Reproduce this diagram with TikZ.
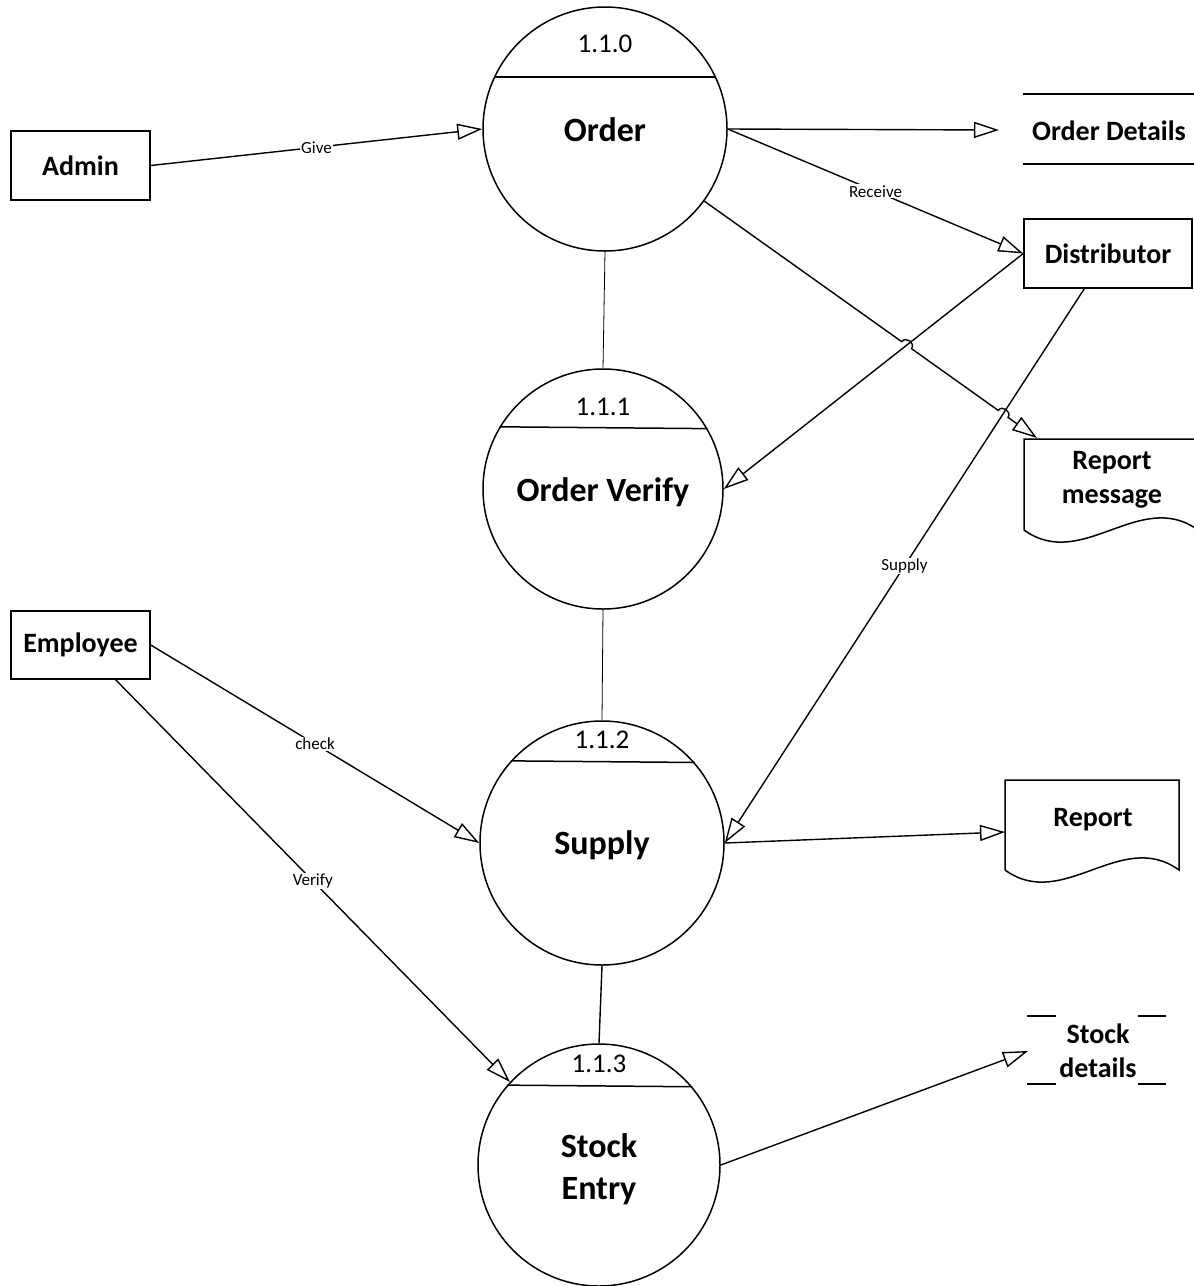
\documentclass[tikz,border=0pt]{standalone}
\usepackage{fontspec}
\setmainfont{Carlito}
\usetikzlibrary{arrows.meta,calc,intersections}
\begin{document}
\begin{tikzpicture}[x=1pt,y=-1pt,
  proc/.style={circle,draw,line width=1.5pt,minimum size=#1,inner sep=0pt},
  ptitle/.style={font=\bfseries\fontsize{34}{42}\selectfont,align=center,inner sep=0pt},
  pnum/.style={font=\fontsize{27}{30}\selectfont,inner sep=0pt},
  ext/.style={draw,line width=1.5pt,minimum width=139pt,minimum height=69pt,inner sep=0pt,font=\bfseries\fontsize{28}{30}\selectfont},
  store/.style={font=\bfseries\fontsize{28}{34}\selectfont,align=center,inner sep=0pt},
  shapeline/.style={line width=1.5pt},
  flow/.style={line width=1.4pt,-{Triangle[open,length=25pt,width=16pt,line width=1.4pt]}},
  thin/.style={line width=0.8pt},
  plain/.style={line width=1.4pt},
  lab/.style={fill=white,inner sep=1pt,font=\fontsize{17}{17}\selectfont}
]
\useasboundingbox (0,0) rectangle (1194,1286);

% processes
\node[proc=244pt] (order) at (605,129) {};
\draw[shapeline] (order.155) -- (order.25);
\node[pnum] (n0) at (605,44) {1.1.0};
\node[ptitle] (t0) at (605,130) {Order};

\node[proc=240pt] (ov) at (603,489) {};
\draw[shapeline] (ov.149.4) -- (ov.30.6);
\node[pnum] (n1) at (603,407) {1.1.1};
\node[ptitle] (t1) at (603,492) {Order Verify};

\node[proc=244pt] (supply) at (602,843) {};
\draw[shapeline] (supply.138.4) -- (supply.41.6);
\node[pnum] (n2) at (602,740) {1.1.2};
\node[ptitle] (t2) at (602,845) {Supply};

\node[proc=242pt] (se) at (599,1165) {};
\draw[shapeline] (se.139.9) -- (se.40.1);
\node[pnum] (n3) at (599,1064) {1.1.3};
\node[ptitle] (t3) at (599,1169) {Stock\\Entry};

% external entities
\node[ext] (admin) at (80.5,165.5) {Admin};
\node[ext,minimum width=168pt] (dist) at (1108,253.5) {Distributor};
\node[ext,minimum height=68pt] (emp) at (80.5,645) {Employee};

% data store: Order Details
\draw[shapeline] (1023,94) -- (1194,94);
\draw[shapeline] (1023,164) -- (1194,164);
\node[store] (odt) at (1109,131) {Order Details};
\coordinate (odin) at (999,130);

% document: Report message
\draw[shapeline] (1024,530) -- (1024,439) -- (1198,439) -- (1198,530)
  .. controls (1140,488) and (1082,572) .. (1024,530);
\node[store] (rmt) at (1112,480) {Report\\message};
\coordinate (rmin) at (1037,438);

% document: Report
\draw[shapeline] (1005,870) -- (1005,780) -- (1179,780) -- (1179,870)
  .. controls (1121,828) and (1063,912) .. (1005,870);
\node[store] (rpt) at (1093,820) {Report};
\coordinate (rpin) at (1005,832);

% data store: Stock details
\draw[shapeline] (1027,1016) -- (1056,1016);
\draw[shapeline] (1138,1016) -- (1166,1016);
\draw[shapeline] (1027,1084) -- (1056,1084);
\draw[shapeline] (1138,1084) -- (1166,1084);
\node[store] (sdt) at (1098,1051) {Stock\\details};
\coordinate (sdin) at (1028,1051);

% flows
\draw[flow] (admin.east) -- node[lab]{Give} (order.west);
\draw[flow] (order.east) -- (odin);
\draw[flow] (order.east) -- node[lab]{Receive} (dist.west);
\draw[flow,name path=dov] (dist.west) -- (ov.east);
\coordinate (dsrc) at ($(dist.south west)!0.36!(dist.south east)$);
\draw[flow,name path=dsup] (dsrc) -- node[lab]{Supply} (supply.east);
\path[name path=orm] (order.-36) -- (rmin);
\path[name intersections={of=orm and dov, by=xa}];
\path[name intersections={of=orm and dsup, by=xb}];
\draw[flow] (order.-36) -- ($(xa)!6pt!(order.-36)$) to[bend left=90,looseness=1.5] ($(xa)!6pt!(rmin)$)
  -- ($(xb)!6pt!(order.-36)$) to[bend left=90,looseness=1.5] ($(xb)!6pt!(rmin)$) -- (rmin);

\draw[thin] (order.south) -- (ov.north);
\draw[thin] (ov.south) -- (supply.north);
\draw[plain] (supply.south) -- (se.north);

\draw[flow] (emp.east) -- node[lab]{check} (supply.west);
\coordinate (esrc) at ($(emp.south west)!0.75!(emp.south east)$);
\draw[flow] (esrc) -- node[lab]{Verify} (se.137);
\draw[flow] (supply.east) -- (rpin);
\draw[flow] (se.east) -- (sdin);
\end{tikzpicture}
\end{document}
